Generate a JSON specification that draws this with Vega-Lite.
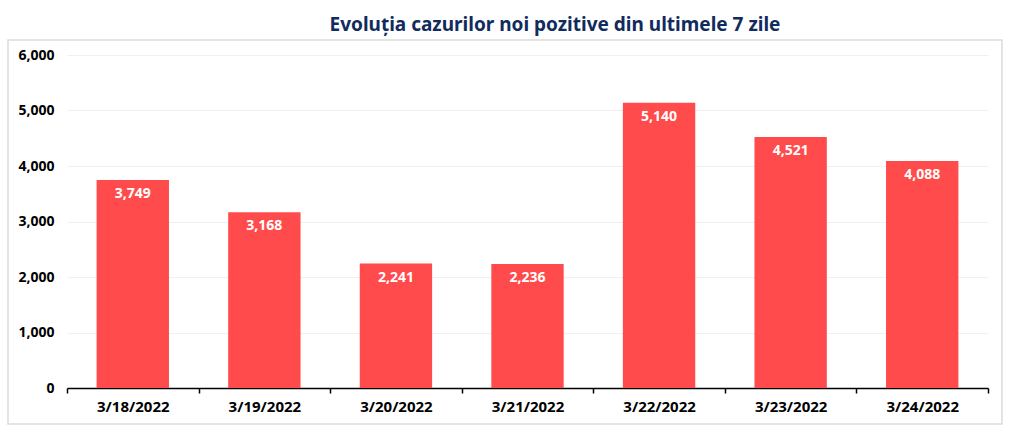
{
  "$schema": "https://vega.github.io/schema/vega-lite/v6.json",
  "width": 994,
  "height": 384,
  "autosize": {"type": "none"},
  "padding": {"left": 8, "top": 40, "right": 22, "bottom": 9},
  "background": "white",
  "title": {
    "text": "Evoluția cazurilor noi pozitive din ultimele 7 zile",
    "font": "Noto Sans",
    "fontSize": 19,
    "fontWeight": "bold",
    "color": "#112B5E",
    "anchor": "middle",
    "dx": 50,
    "offset": 5
  },
  "config": {
    "view": {"stroke": "#dcdcdc", "strokeWidth": 1.5},
    "font": "Noto Sans"
  },
  "data": {
    "values": [
      {"date": "3/18/2022", "cases": 3749},
      {"date": "3/19/2022", "cases": 3168},
      {"date": "3/20/2022", "cases": 2241},
      {"date": "3/21/2022", "cases": 2236},
      {"date": "3/22/2022", "cases": 5140},
      {"date": "3/23/2022", "cases": 4521},
      {"date": "3/24/2022", "cases": 4088}
    ]
  },
  "encoding": {
    "x": {
      "field": "date",
      "type": "ordinal",
      "sort": null,
      "scale": {"paddingInner": 0, "paddingOuter": 0, "range": [59, 980]},
      "axis": {
        "title": null,
        "offset": -36,
        "labelAngle": 0,
        "labelFont": "Noto Sans",
        "labelFontSize": 15,
        "labelFontWeight": "bold",
        "labelColor": "#000000",
        "labelPadding": 6,
        "domainColor": "#000000",
        "domainWidth": 1.5,
        "tickColor": "#000000",
        "tickWidth": 1.5,
        "tickSize": 5,
        "tickBand": "extent",
        "grid": false
      }
    },
    "y": {
      "field": "cases",
      "type": "quantitative",
      "scale": {"domain": [0, 6000], "range": [348, 15]},
      "axis": {
        "title": null,
        "offset": -59,
        "values": [0, 1000, 2000, 3000, 4000, 5000, 6000],
        "format": ",d",
        "labelFont": "Noto Sans",
        "labelFontSize": 14,
        "labelFontWeight": "bold",
        "labelColor": "#000000",
        "labelPadding": 13,
        "domain": false,
        "ticks": false,
        "gridColor": "#f0f0f0",
        "gridWidth": 1
      }
    }
  },
  "layer": [
    {"mark": {"type": "bar", "color": "#FF4B4B", "width": {"band": 0.55}}},
    {
      "mark": {
        "type": "text",
        "color": "white",
        "fontWeight": "bold",
        "fontSize": 14,
        "font": "Noto Sans",
        "baseline": "top",
        "dy": 7
      },
      "encoding": {"text": {"field": "cases", "type": "quantitative", "format": ","}}
    }
  ]
}
